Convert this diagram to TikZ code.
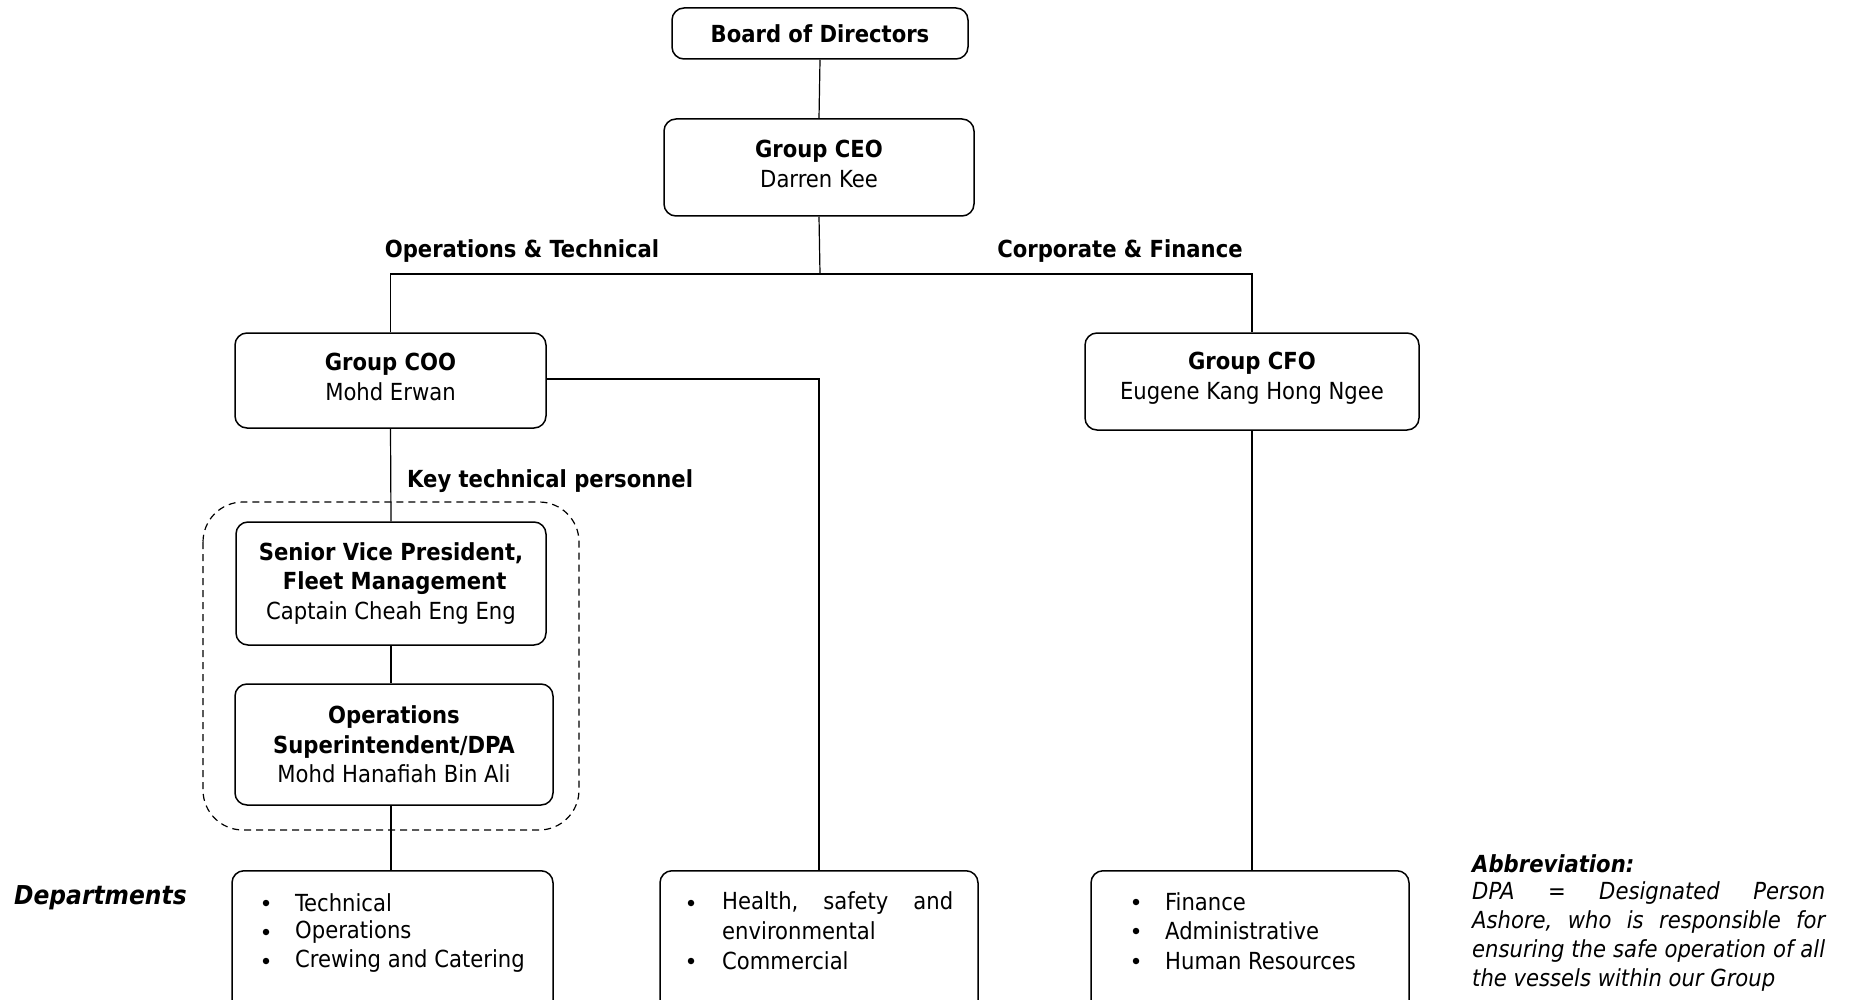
\documentclass[tikz,border=0pt]{standalone}
\usepackage{fontspec}
\setmainfont{DejaVu Sans Condensed}
\usetikzlibrary{positioning}
\newcommand{\chartfont}{\fontsize{23.5}{29.5}\selectfont}
\begin{document}
\begin{tikzpicture}[x=1pt,y=-1pt,
  box/.style={draw, line width=1.5pt, rounded corners=12pt, align=center,
    inner sep=0pt, font=\chartfont},
  raised/.style={label={[align=center, font=\chartfont, inner sep=0pt, yshift=3.5pt]center:#1}},
  conn/.style={line width=1.2pt},
  lbl/.style={inner sep=0pt, font=\chartfont\bfseries},
  item/.style={inner sep=0pt, anchor=west, font=\chartfont},
  dot/.style={circle, fill, inner sep=0pt, minimum size=6.5pt}]
\useasboundingbox (0,0) rectangle (1849,1000);
\begin{scope}
\clip (0,0) rectangle (1849,1000);

% executive boxes
\node[box, minimum width=296pt, minimum height=51pt] (board) at (820,33.5) {\textbf{Board of Directors}};
\node[box, minimum width=310pt, minimum height=97pt, raised={\textbf{Group CEO}\\Darren Kee}] (ceo) at (819,167.5) {};
\node[box, minimum width=311pt, minimum height=95pt, raised={\textbf{Group COO}\\Mohd Erwan}] (coo) at (390.5,380.5) {};
\node[box, minimum width=334pt, minimum height=97pt, raised={\textbf{Group CFO}\\Eugene Kang Hong Ngee}] (cfo) at (1252,381.5) {};

% key technical personnel
\node[box, minimum width=310pt, minimum height=123pt] (svp) at (391,583.5) {\textbf{Senior Vice President,}\\\textbf{\ Fleet Management}\\Captain Cheah Eng Eng};
\node[box, minimum width=318pt, minimum height=121pt] (ops) at (394,744.5) {\textbf{Operations}\\\textbf{Superintendent/DPA}\\Mohd Hanafiah Bin Ali};
\draw[line width=1.2pt, dashed, dash pattern=on 7pt off 5pt, rounded corners=40pt] (203,502) rectangle (579,830);

% department boxes
\node[box, minimum width=321pt, minimum height=150pt, anchor=north] (dep1) at (392.5,870) {};
\node[box, minimum width=318pt, minimum height=150pt, anchor=north] (dep2) at (819,870) {};
\node[box, minimum width=318pt, minimum height=150pt, anchor=north] (dep3) at (1250,870) {};

% branch labels
\node[lbl] (optech) at (522,251.5) {Operations \& Technical};
\node[lbl] (corpfin) at (1120,251.5) {Corporate \& Finance};
\node[lbl, anchor=west] (ktp) at (407,481.5) {Key technical personnel};

% connectors
\coordinate (branch) at (820,274);
\draw[conn] (board.south) -- (ceo.north);
\draw[conn] (ceo.south) -- (branch);
\draw[conn] (coo.north) |- (branch) -| (cfo.north);
\draw[conn] (coo.south) -- (svp.north);
\draw[conn] (svp.south) -- (svp.south |- ops.north);
\draw[conn] (ops.south -| svp.south) -- (svp.south |- dep1.north);
\draw[conn] ([yshift=1.5pt]coo.east) -| (dep2.north);
\draw[conn] (cfo.south) -- (cfo.south |- dep3.north);

% department lists
\node[dot] (b11) at (266,903) {};
\node[item] (t11) at (295,903) {Technical};
\node[dot] (b12) at (266,932) {};
\node[item] (t12) at (295,932) {Operations};
\node[dot] (b13) at (266,961) {};
\node[item] (t13) at (295,961) {Crewing and Catering};

\node[dot] (b21) at (691,903) {};
\node[item] (t21) at (722,903) {\makebox[231pt][s]{Health,\hfill safety\hfill and}};
\node[item] (t22) at (722,931) {environmental};
\node[dot] (b23) at (691,961) {};
\node[item] (t23) at (722,961) {Commercial};

\node[dot] (b31) at (1136,902) {};
\node[item] (t31) at (1165,902) {Finance};
\node[dot] (b32) at (1136,931) {};
\node[item] (t32) at (1165,931) {Administrative};
\node[dot] (b33) at (1136,961) {};
\node[item] (t33) at (1165,961) {Human Resources};

% side notes
\node[item, font=\fontsize{26}{29}\selectfont\bfseries\itshape] (deps) at (14,897.5) {Departments};
\node[item, font=\chartfont\bfseries\itshape] (abbr) at (1472,864) {Abbreviation:};
\node[item, font=\chartfont\itshape] (a1) at (1472,893) {\makebox[353pt][s]{DPA\hfill=\hfill Designated\hfill Person}};
\node[item, font=\chartfont\itshape] (a2) at (1472,922) {\makebox[353pt][s]{Ashore,\hfill who\hfill is\hfill responsible\hfill for}};
\node[item, font=\chartfont\itshape] (a3) at (1472,951) {\makebox[353pt][s]{ensuring\hfill the\hfill safe\hfill operation\hfill of\hfill all}};
\node[item, font=\chartfont\itshape] (a4) at (1472,980) {the vessels within our Group};
\end{scope}
\end{tikzpicture}
\end{document}
